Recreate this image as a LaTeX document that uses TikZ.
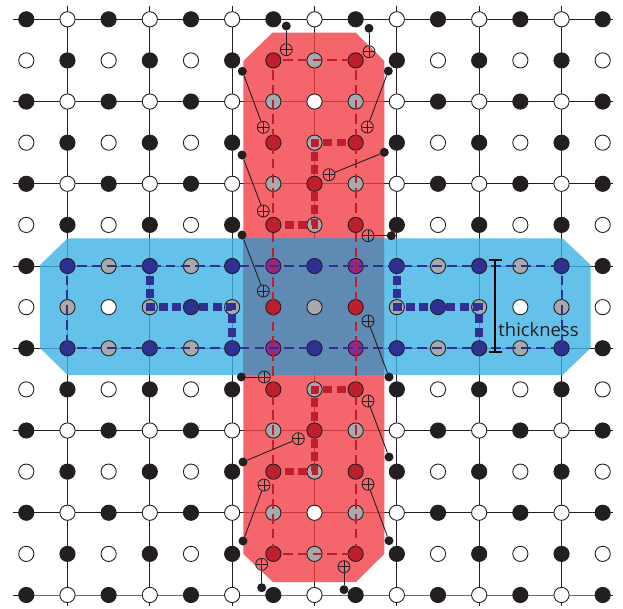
\documentclass[tikz,border=0pt]{standalone}
\usepackage{fontspec}
\setmainfont{Open Sans}
\usetikzlibrary{arrows.meta}
\pgfdeclarelayer{gridlayer}
\pgfdeclarelayer{patchlayer}
\pgfsetlayers{gridlayer,patchlayer,main}
\definecolor{ink}{HTML}{231F20}
\definecolor{qred}{HTML}{BE1E2D}
\definecolor{qblue}{HTML}{2E3192}
\definecolor{qpurple}{HTML}{92278F}
\definecolor{qgray}{HTML}{A7A9AC}
\definecolor{patchred}{HTML}{F14047}
\definecolor{patchblue}{HTML}{3CB1E5}
\definecolor{patchmix}{HTML}{5F84AE}
\tikzset{
  x=1pt,y=-1pt,
  qubit/.style={circle,draw=ink,line width=0.9pt,minimum size=15.2pt,inner sep=0pt},
  stb/.style={qubit,fill=ink},
  stw/.style={qubit,fill=white},
  str/.style={qubit,fill=qred},
  stg/.style={qubit,fill=qgray},
  stn/.style={qubit,fill=qblue},
  stp/.style={qubit,fill=qpurple},
  gridline/.style={draw=ink,line width=0.9pt},
  thinred/.style={draw=qred,line width=2pt,dash pattern=on 9.6pt off 5.2pt,dash phase=5.2pt},
  thinblue/.style={draw=qblue,line width=2pt,dash pattern=on 9.6pt off 5.2pt,dash phase=5.2pt},
  thickred/.style={draw=qred,line width=7.6pt,miter limit=10,dash pattern=on 9pt off 4.4pt,dash phase=3.35pt},
  thickblue/.style={draw=qblue,line width=7.6pt,miter limit=10,dash pattern=on 9pt off 4.4pt,dash phase=3.35pt},
  anc/.style={circle,fill=ink,minimum size=9pt,inner sep=0pt},
  xorgate/.style={circle,draw=ink,line width=0.8pt,minimum size=12pt,inner sep=0pt,
    path picture={\draw[ink,line width=0.8pt]
      (path picture bounding box.north)--(path picture bounding box.south)
      (path picture bounding box.west)--(path picture bounding box.east);}},
  ancline/.style={draw=ink,line width=0.9pt},
}
\def\rowA{b,w,b,w,b,w,b,w,b,w,b,w,b,w,b}
\def\rowB{w,b,w,b,w,b,r,g,r,b,w,b,w,b,w}
\def\rowC{b,w,b,w,b,w,g,w,g,w,b,w,b,w,b}
\def\rowD{b,w,b,w,b,w,g,r,g,w,b,w,b,w,b}
\def\rowE{b,n,g,n,g,n,p,n,p,n,g,n,g,n,b}
\def\rowF{w,g,w,g,n,g,r,g,r,g,n,g,w,g,w}
\begin{document}
\begin{tikzpicture}
\useasboundingbox (0,0) rectangle (623,608);
% qubits
\foreach \j/\r in {0/A,1/B,2/C,3/B,4/D,5/B,6/E,7/F,8/E,9/B,10/D,11/B,12/C,13/B,14/A}{
  \edef\currow{\csname row\r\endcsname}
  \foreach \k [count=\i from 0] in \currow {
    \pgfmathsetmacro{\px}{26.3+41.17*\i}
    \pgfmathsetmacro{\py}{19.3+41.12*\j}
    \node[st\k] (n-\i-\j) at (\px,\py) {};
  }
}
% free line ends
\foreach \j in {0,2,...,14}{
  \coordinate (hl-\j) at (13,{19.3+41.12*\j});
  \coordinate (hr-\j) at (613,{19.3+41.12*\j});
}
\foreach \i in {1,3,...,13}{
  \coordinate (vt-\i) at ({26.3+41.17*\i},5.5);
  \coordinate (vb-\i) at ({26.3+41.17*\i},606);
}
\begin{pgfonlayer}{gridlayer}
\foreach \j in {0,2,...,14}{
  \draw[gridline] (hl-\j) -- (n-0-\j.center) -- (n-14-\j.center) -- (hr-\j);
}
\foreach \i in {1,3,...,13}{
  \draw[gridline] (vt-\i) -- (n-\i-0.center) -- (n-\i-14.center) -- (vb-\i);
}
\end{pgfonlayer}
\begin{pgfonlayer}{patchlayer}
\fill[patchred,fill opacity=0.8] (272.7,32.5) -- (355.7,32.5) -- (384.3,61) -- (384.3,554) -- (356,582) -- (273,582) -- (243.3,554) -- (243.3,61) -- cycle;
\fill[patchblue,fill opacity=0.8] (67.6,238.3) -- (562.6,238.3) -- (590.7,265) -- (590.7,348) -- (562.6,375) -- (67.6,375) -- (40,348) -- (40,265) -- cycle;
\fill[patchmix,fill opacity=0.8] (243.3,238.3) rectangle (384.3,375);
\end{pgfonlayer}
% stabiliser boundaries
\draw[thinred] (n-6-1.center) -- (n-8-1.center);
\draw[thinred] (n-6-13.center) -- (n-8-13.center);
\draw[thinred] (n-6-1.center) -- (n-6-13.center);
\draw[thinred] (n-8-1.center) -- (n-8-13.center);
\draw[thinblue] (n-1-6.center) -- (n-13-6.center);
\draw[thinblue] (n-1-8.center) -- (n-13-8.center);
\draw[thinblue] (n-1-6.center) -- (n-1-8.center);
\draw[thinblue] (n-13-6.center) -- (n-13-8.center);
% thick strings
\draw[thickred] (n-8-3.center) -- (n-7-3.center) -- (n-7-5.center) -- (n-6-5.center);
\draw[thickred] (n-8-9.center) -- (n-7-9.center) -- (n-7-11.center) -- (n-6-11.center);
\draw[thickblue] (n-3-6.center) -- (n-3-7.center) -- (n-5-7.center) -- (n-5-8.center);
\draw[thickblue] (n-9-6.center) -- (n-9-7.center) -- (n-11-7.center) -- (n-11-8.center);
% ancilla pairs
\foreach \name/\dx/\dy/\cx/\cy in {
  a/286.3/26/286.3/49.7,
  b/369/28.3/369/51.7,
  c/242.3/71.3/263.3/127.3,
  d/388.3/71/367.3/127,
  e/384.3/152.3/329/174.7,
  f/242/155/263.3/211,
  g/242/235/263.3/291,
  h/391.3/235.7/368/235.7,
  i/389/377/368/321,
  j/241.3/377/264.3/377,
  k/389/457/368/401,
  l/243/462/298.3/438.7,
  m/243/541/264/485,
  o/389/540.7/368/484.3,
  p/261.7/587.7/261.7/564.3,
  q/344/589.7/344/566.7}{
  \node[anc] (dot-\name) at (\dx,\dy) {};
  \node[xorgate] (xor-\name) at (\cx,\cy) {};
  \draw[ancline] (dot-\name) -- (xor-\name);
}
% thickness marker
\coordinate (thtop) at (495,259);
\coordinate (thbot) at (495,352.7);
\draw[black,line width=1.7pt,{Bar[width=13pt,line width=1.7pt]}-{Bar[width=13pt,line width=1.7pt]}] (thtop) -- (thbot);
\node[text=ink,font=\fontsize{18.4}{22}\selectfont,inner sep=0pt] (thlabel) at (538.5,329.5) {thickness};
\end{tikzpicture}
\end{document}
